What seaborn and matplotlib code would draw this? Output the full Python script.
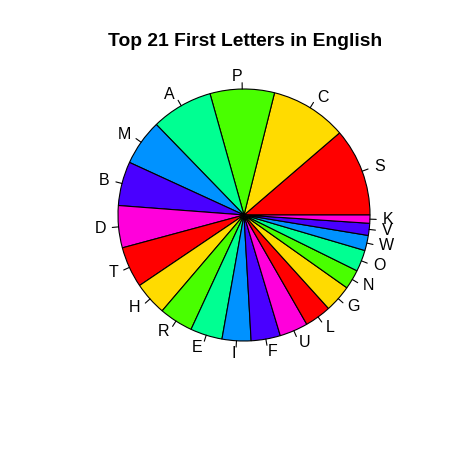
import numpy as np
import matplotlib
matplotlib.use("Agg")
import matplotlib.pyplot as plt
import seaborn as sns

# slice sizes (percent of words)
letters = ["S", "C", "P", "A", "M", "B", "D", "T", "H", "R", "E",
           "I", "F", "U", "L", "G", "N", "O", "W", "V", "K"]
shares = [11.3, 9.8, 8.25, 7.9, 5.9, 5.65, 5.4, 5.25, 4.3, 4.35, 4.1,
          3.7, 3.75, 3.65, 3.4, 3.5, 2.5, 2.75, 1.95, 1.55, 1.05]
# R rainbow(7), recycled
palette = ["#FF0000", "#FFDB00", "#49FF00", "#00FF92",
           "#0092FF", "#4900FF", "#FF00DB"]

sns.set_style("white")
plt.rcParams["font.family"] = ["Liberation Sans", "DejaVu Sans"]
plt.rcParams["text.color"] = "black"

W, H = 450, 449
cx, cy, rad = 244, 215, 126

fig = plt.figure(figsize=(W / 100, H / 100), dpi=100)
ax = fig.add_axes([0, 0, 1, 1])

colors = [palette[i % len(palette)] for i in range(len(shares))]
ax.pie(shares, colors=colors, startangle=0, counterclock=True,
       radius=1.0, center=(0, 0),
       wedgeprops=dict(edgecolor="black", linewidth=0.8))

ax.set_aspect("auto")
ax.set_xlim(-cx / rad, (W - cx) / rad)
ax.set_ylim(-(H - cy) / rad, cy / rad)
ax.axis("off")

# labels R style: tick 1.0 -> 1.05, text at 1.1
frac = np.cumsum([0] + shares) / sum(shares)
for i, lab in enumerate(letters):
    mid = 2 * np.pi * (frac[i] + frac[i + 1]) / 2
    c, s = np.cos(mid), np.sin(mid)
    ax.plot([c, 1.05 * c], [s, 1.05 * s], color="black", linewidth=0.8)
    ax.text(1.1 * c, 1.1 * s, lab, fontsize=11.5, color="black",
            ha="left" if c > 0 else "right", va="center")

fig.text(245 / W, 1 - 41 / H, "Top 21 First Letters in English",
         fontsize=13.9, fontweight="bold", color="black",
         ha="center", va="center")

fig.savefig("out.png", dpi=100, facecolor="white")
